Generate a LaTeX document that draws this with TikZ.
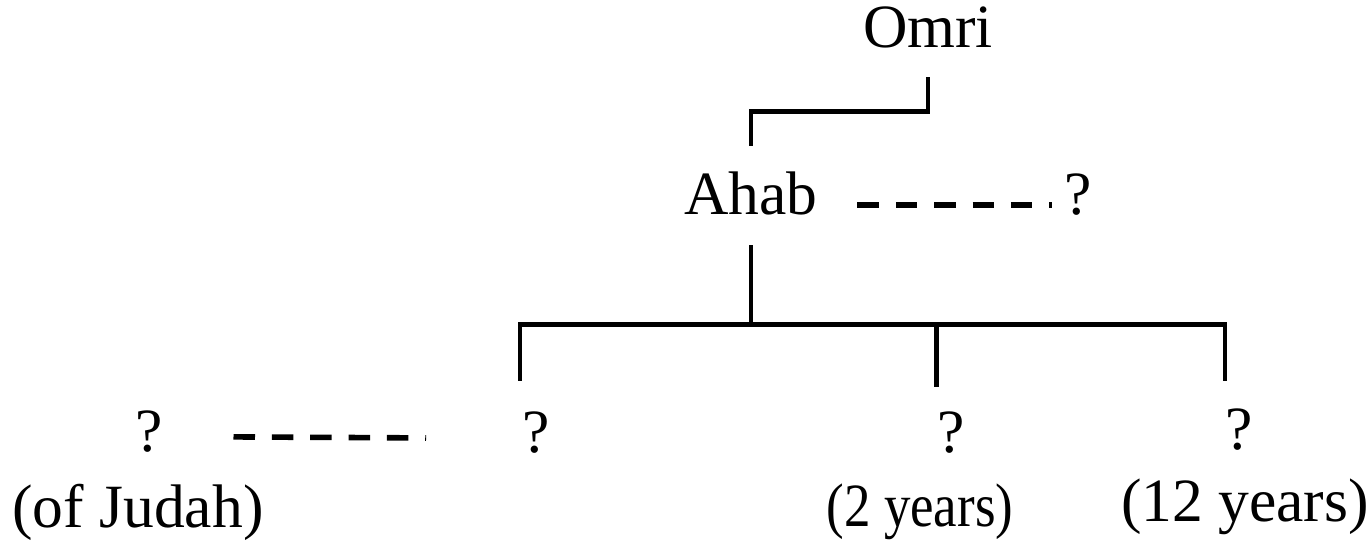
\documentclass[tikz,border=0pt]{standalone}
\usepackage{fontspec}
\setmainfont{Liberation Serif}

\tikzstyle{person} = [inner sep=0pt, text depth=0pt, anchor=base, font=\fontsize{35}{42}\selectfont]
\tikzstyle{note} = [inner sep=0pt, anchor=base, font=\fontsize{35}{42}\selectfont]
\tikzstyle{bond} = [line width=2.8pt, line join=miter]
\tikzstyle{tie} = [line width=3.2pt, dash pattern=on 0.43cm off 0.337cm]

\begin{document}
\begin{tikzpicture}
	\useasboundingbox (0,0) rectangle (27.4,10.98);
	
	\node (omri) [person] at (18.56,10.02) {Omri};
	\node (ahab) [person] at (15.02,6.68) {Ahab};
	\node (wife) [person] at (21.56,6.68) {?};
	\node (spouse) [person] at (2.98,1.94) {?};
	\node (kidA) [person] at (10.72,1.92) {?};
	\node (kidB) [person] at (19.02,1.92) {?};
	\node (kidC) [person] at (24.78,1.98) {?};
	\node (judah) [note] at (2.76,0.42) {(of Judah)};
	\node (twoyears) [note] at (18.4,0.44) {\scalebox{0.86}[1]{(2 years)}};
	\node (twelveyears) [note] at (24.9,0.54) {(12 years)};
	\coordinate (fork) at (15.02,4.49);
	
	\draw [bond, shorten <=0.58cm, shorten >=0.52cm] (omri.south) -- ++(0,-1.26) -| (ahab.north);
	\draw [tie, shorten <=0.79cm, shorten >=0.25cm] ([yshift=0.2cm]ahab.base east) -- ([yshift=0.2cm]wife.base west);
	\draw [bond, shorten <=0.6cm] (ahab.south) -- (fork);
	\draw [bond, shorten <=0.62cm, shorten >=0.55cm] ([xshift=-0.32cm]kidA.north) |- (fork) -| ([xshift=-0.28cm]kidC.north);
	\draw [bond, shorten <=0.5cm] ([xshift=-0.29cm]kidB.north) -- ([xshift=-0.29cm]kidB.north |- fork);
	\draw [tie, shorten <=1.41cm, shorten >=1.92cm] ([yshift=0.31cm]spouse.base east) -- ([yshift=0.29cm]kidA.base west);
	
\end{tikzpicture}
\end{document}
